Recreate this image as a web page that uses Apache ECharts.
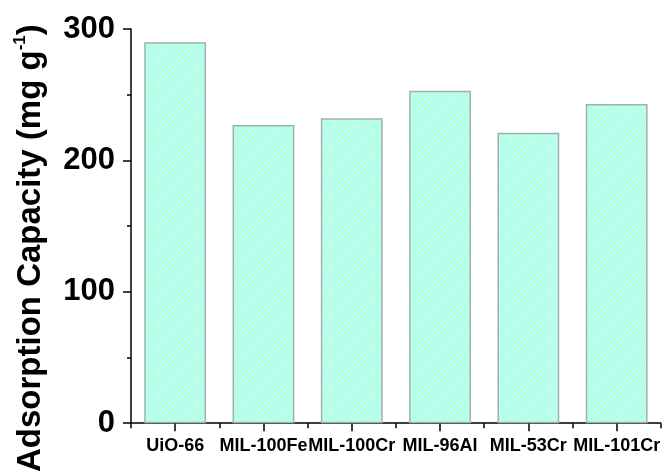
<!DOCTYPE html>
<html>
<head>
<meta charset="utf-8">
<script src="https://cdn.jsdelivr.net/npm/echarts@6/dist/echarts.min.js"></script>
<style>
html,body{margin:0;padding:0;background:#fff;}
#chart{width:663px;height:475px;}
</style>
</head>
<body>
<div id="chart"></div>
<script>
const categories = ['UiO-66', 'MIL-100Fe', 'MIL-100Cr', 'MIL-96Al', 'MIL-53Cr', 'MIL-101Cr'];
const capacity = [290, 227, 232, 253, 221, 243];
const yTicks = [0, 100, 200, 300];

function hatch() {
  const c = document.createElement('canvas');
  const s = 6;
  c.width = s; c.height = s;
  const g = c.getContext('2d');
  g.fillStyle = '#affff7';
  g.fillRect(0, 0, s, s);
  g.strokeStyle = '#e6ffa2';
  g.lineWidth = 0.9;
  g.beginPath();
  g.moveTo(0, s); g.lineTo(s, 0);
  g.moveTo(-1, 1); g.lineTo(1, -1);
  g.moveTo(s - 1, s + 1); g.lineTo(s + 1, s - 1);
  g.stroke();
  return c;
}

const chart = echarts.init(document.getElementById('chart'), null, {renderer: 'canvas'});
const font = '"Liberation Sans", Arial, sans-serif';
chart.setOption({
  animation: false,
  backgroundColor: '#ffffff',
  grid: {left: 131, right: 0, top: 29, bottom: 50, containLabel: false},
  xAxis: [{
    type: 'category',
    data: categories,
    axisLine: {show: true, lineStyle: {color: '#000', width: 1.5}},
    axisTick: {show: true, alignWithLabel: true, length: 8, lineStyle: {color: '#000', width: 1.5}},
    axisLabel: {interval: 0, margin: 14, color: '#000', fontSize: 18, fontWeight: 'bold', fontFamily: font, hideOverlap: false},
    splitLine: {show: false}
  }, {
    type: 'category',
    data: categories,
    position: 'bottom',
    axisLine: {show: false},
    axisTick: {show: true, interval: 0, length: 5, lineStyle: {color: '#000', width: 1.5}},
    axisLabel: {show: false},
    splitLine: {show: false}
  }],
  yAxis: {
    type: 'value',
    min: yTicks[0],
    max: yTicks[yTicks.length - 1],
    interval: 100,
    name: '{a|Adsorption Capacity (mg g}{s|-1}{a|)}',
    nameLocation: 'middle',
    nameGap: 82,
    nameRotate: 90,
    nameTextStyle: {
      padding: [0, 44, 0, 0],
      rich: {
        a: {fontSize: 33, fontWeight: 'bold', fontFamily: font, color: '#000', lineHeight: 37},
        s: {fontSize: 17, fontWeight: 'bold', fontFamily: font, color: '#000', verticalAlign: 'top', lineHeight: 37}
      }
    },
    axisLine: {show: true, lineStyle: {color: '#000', width: 1.5}},
    axisTick: {show: true, length: 8, lineStyle: {color: '#000', width: 1.5}},
    minorTick: {show: true, splitNumber: 2, length: 4, lineStyle: {color: '#000', width: 1.5}},
    axisLabel: {margin: 16, color: '#000', fontSize: 31, fontWeight: 'bold', fontFamily: font},
    splitLine: {show: false}
  },
  series: [{
    type: 'bar',
    xAxisIndex: 0,
    data: capacity,
    barWidth: '70%',
    itemStyle: {
      color: {image: hatch(), repeat: 'repeat'},
      borderColor: '#9fb0b0',
      borderWidth: 1.5
    }
  }]
});
</script>
</body>
</html>
